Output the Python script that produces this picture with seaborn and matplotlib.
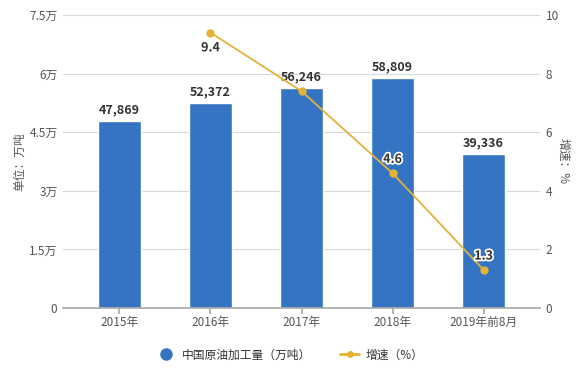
import matplotlib
matplotlib.use("Agg")
import matplotlib.pyplot as plt
import matplotlib.patheffects as pe
import seaborn as sns
import pandas as pd

categories = ["2015年", "2016年", "2017年", "2018年", "2019年前8月"]
output = [47869, 52372, 56246, 58809, 39336]
growth_cats = ["2016年", "2017年", "2018年", "2019年前8月"]
growth = [9.4, 7.4, 4.6, 1.3]
growth_labels = ["9.4", None, "4.6", "1.3"]
left_ticks = [0, 15000, 30000, 45000, 60000, 75000]
left_tick_labels = ["0", "1.5万", "3万", "4.5万", "6万", "7.5万"]
right_ticks = [0, 2, 4, 6, 8, 10]

sns.set_theme(style="white")
plt.rcParams["font.family"] = ["Noto Sans CJK SC", "DejaVu Sans"]

bar_color = "#3474C2"
line_color = "#E3B236"
text_color = "#333333"
tick_color = "#555555"

fig = plt.figure(figsize=(5.85, 3.73), dpi=100)
ax = fig.add_axes([63/585, 1-308/373, 477/585, 293/373])

df = pd.DataFrame({"cat": categories, "val": output})
sns.barplot(data=df, x="cat", y="val", color=bar_color, width=0.47,
            saturation=1, ax=ax, zorder=2)
ax.set_xlim(-0.62, 4.62)
ax.set_ylim(0, 75000)
ax.set_yticks(left_ticks)
ax.set_yticklabels(left_tick_labels)
ax.grid(axis="y", color="#D9D9D9", linewidth=0.8, zorder=0)
ax.set_axisbelow(True)
for s in ["top", "right", "left"]:
    ax.spines[s].set_visible(False)
ax.spines["bottom"].set_color("#AAAAAA")
ax.tick_params(axis="y", length=0, labelsize=8.5, labelcolor=tick_color, pad=4)
ax.tick_params(axis="x", length=4, color="#AAAAAA", labelsize=8.5,
               labelcolor=tick_color, pad=2, bottom=True)
ax.set_xlabel("")
ax.set_ylabel("单位：万吨", fontsize=8.5, color=tick_color, labelpad=2)

for i, v in enumerate(output):
    ax.text(i, v + 1200, f"{v:,}", ha="center", va="bottom", fontsize=9,
            fontweight="bold", color=text_color, zorder=5)

ax2 = ax.twinx()
gx = [categories.index(c) for c in growth_cats]
gdf = pd.DataFrame({"x": gx, "g": growth})
sns.lineplot(data=gdf, x="x", y="g", color=line_color, linewidth=1.3,
             marker="o", markersize=6, markeredgewidth=0, ax=ax2, zorder=4)
ax2.set_xlim(-0.62, 4.62)
ax2.set_ylim(0, 10)
ax2.set_yticks(right_ticks)
ax2.tick_params(axis="y", length=0, labelsize=8.5, labelcolor=tick_color, pad=4)
for s in ["top", "right", "left", "bottom"]:
    ax2.spines[s].set_visible(False)
ax2.grid(False)
ax2.set_xlabel("")
ax2.set_ylabel("增速：%", fontsize=8.5, color=tick_color, rotation=-90, labelpad=8)

stroke = [pe.withStroke(linewidth=2.5, foreground="white")]
for x, g, lab in zip(gx, growth, growth_labels):
    if lab is None:
        continue
    if lab == "9.4":
        ax2.text(x, g - 0.3, lab, ha="center", va="top", fontsize=9,
                 fontweight="bold", color=text_color, path_effects=stroke, zorder=6)
    else:
        ax2.text(x, g + 0.25, lab, ha="center", va="bottom", fontsize=9,
                 fontweight="bold", color=text_color, path_effects=stroke, zorder=6)

from matplotlib.lines import Line2D
handles = [
    Line2D([], [], marker="o", linestyle="none", markersize=9,
           markerfacecolor=bar_color, markeredgewidth=0),
    Line2D([], [], marker="o", color=line_color, linewidth=2, markersize=5,
           markeredgewidth=0),
]
fig.legend(handles, ["中国原油加工量（万吨）", "增速（%）"], loc="center",
           bbox_to_anchor=(290/585, 1-355/373), ncol=2, frameon=False,
           fontsize=8.5, handlelength=1.6, columnspacing=2.5, handletextpad=0.5,
           labelcolor=text_color)

fig.savefig("out.png", dpi=100)
